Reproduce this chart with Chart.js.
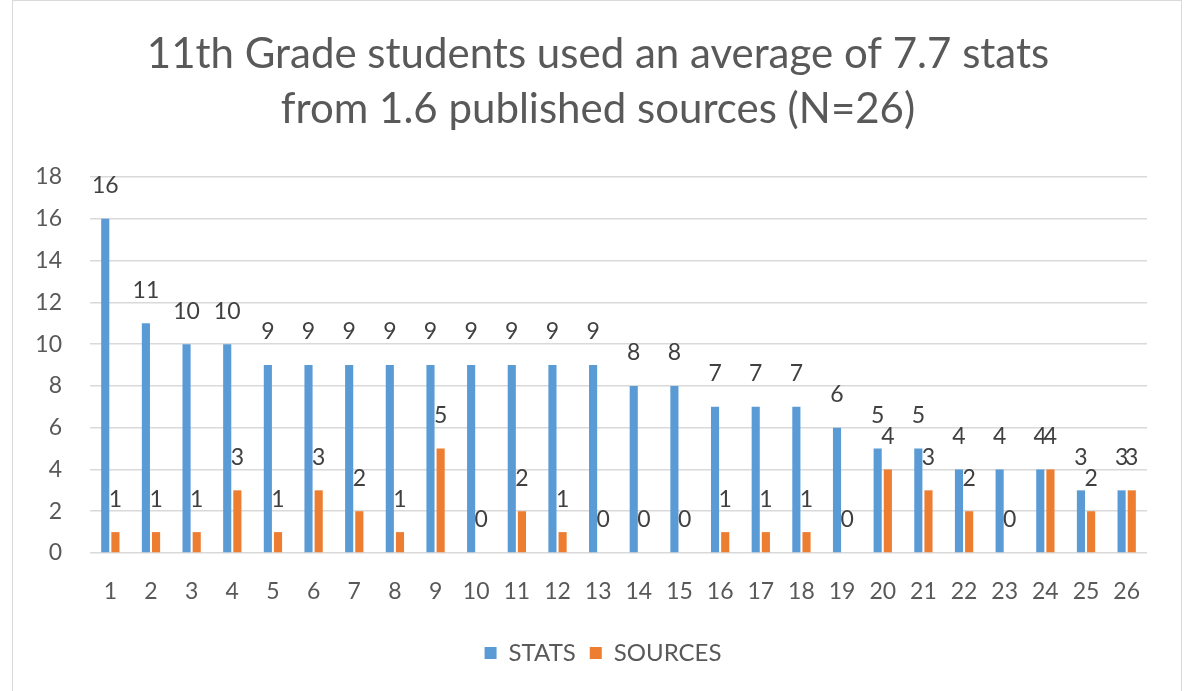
<!DOCTYPE html>
<html>
<head>
<meta charset="utf-8">
<script src="https://cdn.jsdelivr.net/npm/chart.js@4.4.1/dist/chart.umd.min.js"></script>
<style>
    html, body { margin: 0; padding: 0; background: #fff; overflow: hidden; }
    #frame { position: absolute; left: 12px; top: 0px; width: 1170px; height: 720px; border: 1.5px solid #d9d9d9; box-sizing: border-box; }
    #wrap { position: absolute; left: 0; top: 0; width: 1200px; height: 691px; }
</style>
</head>
<body>
<div id="frame"></div>
<div id="wrap"><canvas id="barChart"></canvas></div>
<script>
var categories = ['1', '2', '3', '4', '5', '6', '7', '8', '9', '10', '11', '12', '13',
    '14', '15', '16', '17', '18', '19', '20', '21', '22', '23', '24', '25', '26'];
var stats = [16, 11, 10, 10, 9, 9, 9, 9, 9, 9, 9, 9, 9, 8, 8, 7, 7, 7, 6, 5, 5, 4, 4, 4, 3, 3];
var sources = [1, 1, 1, 3, 1, 3, 2, 1, 5, 0, 2, 1, 0, 0, 0, 1, 1, 1, 0, 4, 3, 2, 0, 4, 2, 3];
var titleLines = ['11th Grade students used an average of 7.7 stats', 'from 1.6 published sources (N=26)'];

var fontName = 'Lato, "Open Sans", sans-serif';

// simple value labels above each bar
var valueLabels = {
    id: 'valueLabels',
    afterLayout: function(chart) {
        // centre title and legend over the whole frame, not just left of the right padding
        if (chart.titleBlock) chart.titleBlock.left += 49;
        if (chart.legend) chart.legend.left += 59;
    },
    afterDatasetsDraw: function(chart) {
        var ctx = chart.ctx;
        ctx.save();
        ctx.font = '23px ' + fontName;
        ctx.fillStyle = '#404040';
        ctx.textAlign = 'center';
        ctx.textBaseline = 'middle';
        chart.data.datasets.forEach(function(ds, i) {
            chart.getDatasetMeta(i).data.forEach(function(bar, j) {
                ctx.fillText(String(ds.data[j]), bar.x, bar.y - 33);
            });
        });
        ctx.restore();
    }
};

document.addEventListener("DOMContentLoaded", function() {
    var ctx = document.getElementById('barChart').getContext('2d');
    var barChart = new Chart(ctx, {
        type: 'bar',
        data: {
            labels: categories,
            datasets: [{
                label: 'STATS',
                backgroundColor: '#5B9BD5',
                data: stats
            }, {
                label: 'SOURCES',
                backgroundColor: '#ED7D31',
                data: sources
            }]
        },
        options: {
            responsive: true,
            maintainAspectRatio: false,
            animation: false,
            datasets: {
                bar: { barPercentage: 0.8, categoryPercentage: 0.5 }
            },
            layout: {
                padding: { left: 0, right: 53, top: 0, bottom: 16 }
            },
            scales: {
                x: {
                    grid: { display: false },
                    border: { display: false },
                    ticks: {
                        color: '#595959',
                        padding: 17,
                        maxRotation: 0,
                        autoSkip: false,
                        font: { family: fontName, size: 23 }
                    },
                    afterFit: function(scale) { scale.height = 74; }
                },
                y: {
                    min: 0,
                    max: 18,
                    border: { display: false },
                    grid: { color: '#d9d9d9', lineWidth: 1.5, drawTicks: false },
                    ticks: {
                        stepSize: 2,
                        color: '#595959',
                        padding: 28,
                        font: { family: fontName, size: 23 }
                    },
                    afterFit: function(scale) { scale.width = 90; }
                }
            },
            plugins: {
                title: {
                    display: true,
                    text: titleLines,
                    color: '#595959',
                    font: { family: fontName, size: 42, weight: 'normal', lineHeight: 1.31 },
                    padding: { top: 27, bottom: 40 }
                },
                legend: {
                    position: 'bottom',
                    labels: {
                        color: '#595959',
                        boxWidth: 12,
                        boxHeight: 12,
                        padding: 14,
                        font: { family: fontName, size: 24 }
                    }
                },
                tooltip: { enabled: false }
            }
        },
        plugins: [valueLabels]
    });
});
</script>
</body>
</html>
